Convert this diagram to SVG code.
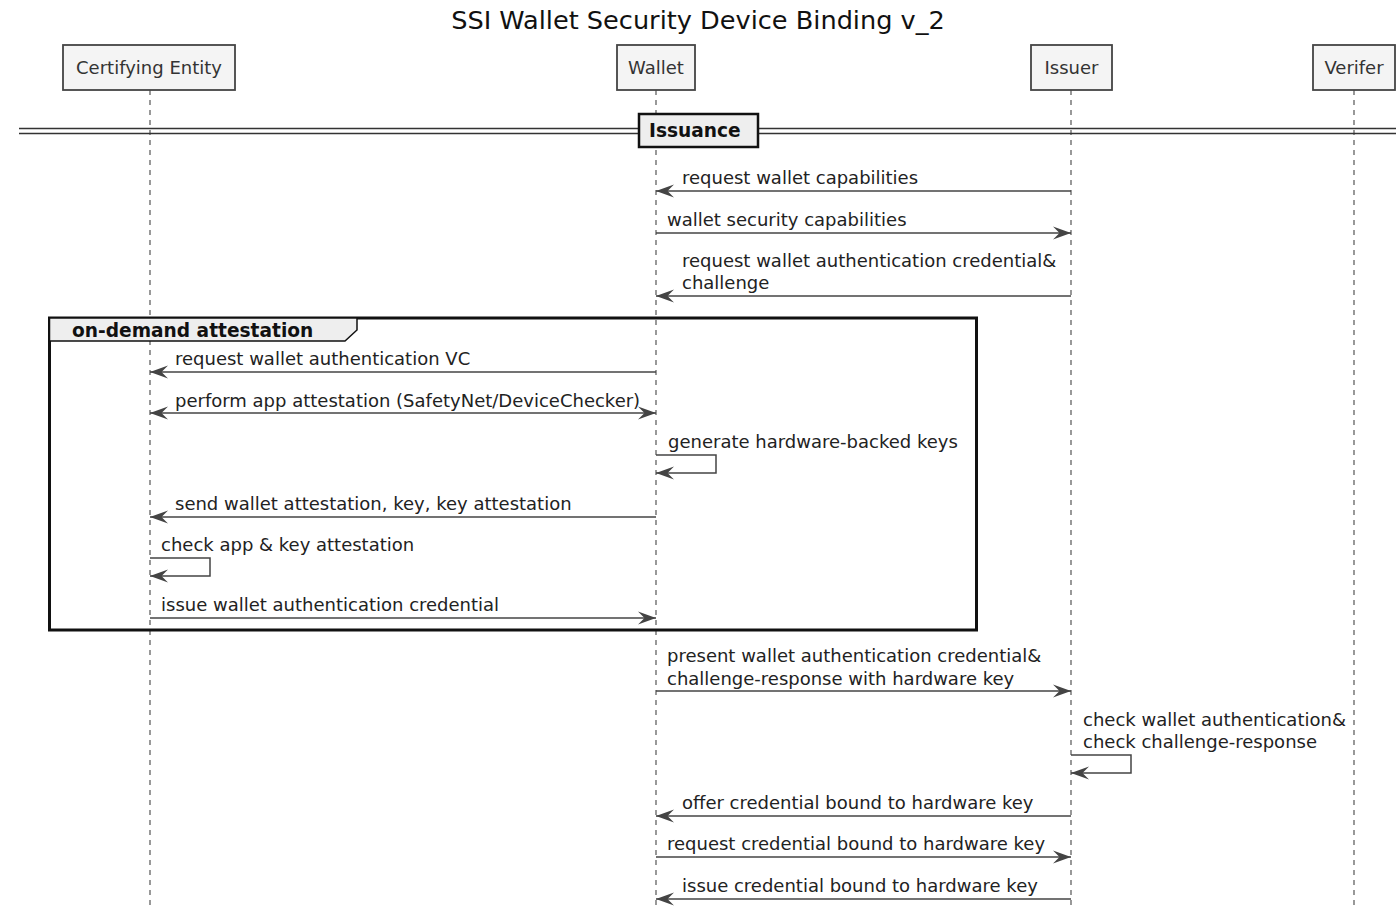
<svg xmlns="http://www.w3.org/2000/svg" width="1396" height="906" viewBox="0 0 1396 906">
<style>
text{font-family:"DejaVu Sans","Liberation Sans",sans-serif;fill:#222}
.t{font-size:18px}
.title{font-size:25.6px;text-anchor:middle;fill:#111}
.pt{font-size:18px;text-anchor:middle;fill:#333}
.b{font-size:18.6px;font-weight:bold;fill:#111}
.part{fill:#f4f4f4;stroke:#444;stroke-width:1.8}
.life{stroke:#555;stroke-width:1.2;stroke-dasharray:5,5;fill:none}
.msg{stroke:#444;stroke-width:1.5;fill:none}
</style>
<defs>
<marker id="arr" viewBox="0 0 18 14" refX="18" refY="7" markerWidth="18" markerHeight="14" markerUnits="userSpaceOnUse" orient="auto-start-reverse">
<path d="M18,7 L0,0.5 L6.5,7 L0,13.5 Z" fill="#444"/>
</marker>
</defs>
<rect width="1396" height="906" fill="#fff"/>
<text class="title" x="698" y="29">SSI Wallet Security Device Binding v_2</text>

<g id="lifelines">
<line class="life" x1="150" y1="90" x2="150" y2="906"/>
<line class="life" x1="656" y1="90" x2="656" y2="906"/>
<line class="life" x1="1071" y1="90" x2="1071" y2="906"/>
<line class="life" x1="1354" y1="90" x2="1354" y2="906"/>
</g>

<g id="p-certifying">
<rect class="part" x="63" y="45" width="172" height="45"/>
<text class="pt" x="149" y="74">Certifying Entity</text>
</g>
<g id="p-wallet">
<rect class="part" x="617" y="45" width="78" height="45"/>
<text class="pt" x="656" y="74">Wallet</text>
</g>
<g id="p-issuer">
<rect class="part" x="1031" y="45" width="81" height="45"/>
<text class="pt" x="1071.5" y="74">Issuer</text>
</g>
<g id="p-verifer">
<rect class="part" x="1313" y="45" width="82" height="45"/>
<text class="pt" x="1354" y="74">Verifer</text>
</g>

<g id="divider-issuance">
<line x1="19" y1="128.5" x2="1396" y2="128.5" stroke="#333" stroke-width="1.5"/>
<line x1="19" y1="133.5" x2="1396" y2="133.5" stroke="#333" stroke-width="1.5"/>
<rect x="639" y="114" width="119" height="33" fill="#eee" stroke="#111" stroke-width="2.5"/>
<text class="b" x="649" y="137">Issuance</text>
</g>

<g id="group-on-demand">
<rect x="49.5" y="318" width="927" height="312" fill="none" stroke="#111" stroke-width="3"/>
<path d="M49.5,318 L357,318 L357,330 L345,341 L49.5,341 Z" fill="#eee" stroke="#111" stroke-width="1.5"/>
<text class="b" x="72" y="337">on-demand attestation</text>
</g>

<g id="connectors">
<line class="msg" x1="1071" y1="191" x2="656" y2="191" marker-end="url(#arr)"/>
<line class="msg" x1="656" y1="233" x2="1071" y2="233" marker-end="url(#arr)"/>
<line class="msg" x1="1071" y1="296" x2="656" y2="296" marker-end="url(#arr)"/>
<line class="msg" x1="656" y1="372" x2="150" y2="372" marker-end="url(#arr)"/>
<line class="msg" x1="150" y1="413" x2="656" y2="413" marker-start="url(#arr)" marker-end="url(#arr)"/>
<polyline class="msg" points="656,455 716,455 716,473 656,473" marker-end="url(#arr)"/>
<line class="msg" x1="656" y1="517" x2="150" y2="517" marker-end="url(#arr)"/>
<polyline class="msg" points="150,558 210,558 210,576 150,576" marker-end="url(#arr)"/>
<line class="msg" x1="150" y1="618" x2="656" y2="618" marker-end="url(#arr)"/>
<line class="msg" x1="656" y1="691" x2="1071" y2="691" marker-end="url(#arr)"/>
<polyline class="msg" points="1071,755 1131,755 1131,773 1071,773" marker-end="url(#arr)"/>
<line class="msg" x1="1071" y1="816" x2="656" y2="816" marker-end="url(#arr)"/>
<line class="msg" x1="656" y1="857" x2="1071" y2="857" marker-end="url(#arr)"/>
<line class="msg" x1="1071" y1="899" x2="656" y2="899" marker-end="url(#arr)"/>
</g>

<g id="labels">
<text class="t" x="682" y="184">request wallet capabilities</text>
<text class="t" x="667" y="226">wallet security capabilities</text>
<text class="t" x="682" y="267">request wallet authentication credential&amp;</text>
<text class="t" x="682" y="289">challenge</text>
<text class="t" x="175" y="365">request wallet authentication VC</text>
<text class="t" x="175" y="407">perform app attestation (SafetyNet/DeviceChecker)</text>
<text class="t" x="668" y="448">generate hardware-backed keys</text>
<text class="t" x="175" y="510">send wallet attestation, key, key attestation</text>
<text class="t" x="161" y="551">check app &amp; key attestation</text>
<text class="t" x="161" y="611">issue wallet authentication credential</text>
<text class="t" x="667" y="662">present wallet authentication credential&amp;</text>
<text class="t" x="667" y="685">challenge-response with hardware key</text>
<text class="t" x="1083" y="726">check wallet authentication&amp;</text>
<text class="t" x="1083" y="748">check challenge-response</text>
<text class="t" x="682" y="809">offer credential bound to hardware key</text>
<text class="t" x="667" y="850">request credential bound to hardware key</text>
<text class="t" x="682" y="892">issue credential bound to hardware key</text>
</g>
</svg>
